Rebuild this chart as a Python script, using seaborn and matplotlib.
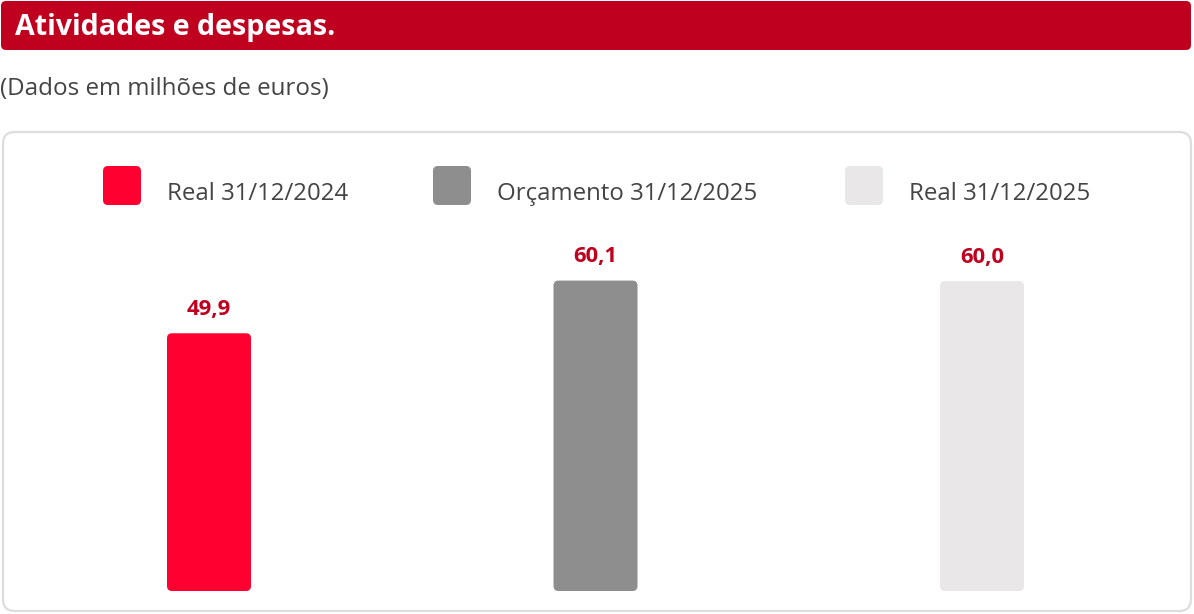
import numpy as np
import pandas as pd
import matplotlib
matplotlib.use("Agg")
import matplotlib.pyplot as plt
import seaborn as sns
from matplotlib.patches import FancyBboxPatch

# Data
categorias = ["Real 31/12/2024", "Orçamento 31/12/2025", "Real 31/12/2025"]
valores = [49.9, 60.1, 60.0]
rotulos = ["49,9", "60,1", "60,0"]
cores = ["#FF0030", "#8E8E8E", "#E9E7E8"]

titulo = "Atividades e despesas."
subtitulo = "(Dados em milhões de euros)"

df = pd.DataFrame({"categoria": categorias, "valor": valores})

sns.set_style("white")
plt.rcParams["font.family"] = ["Open Sans", "DejaVu Sans"]

W, H = 1194, 614
fig = plt.figure(figsize=(W / 100, H / 100), dpi=100)

# background layer in pixel coordinates
bg = fig.add_axes([0, 0, 1, 1])
bg.set_xlim(0, W)
bg.set_ylim(H, 0)
bg.axis("off")

# title bar
bg.add_patch(FancyBboxPatch((1, 1), W - 4, 49, boxstyle="round,pad=0,rounding_size=5",
                            fc="#C0001F", ec="none"))
bg.text(15, 28, titulo, color="white", fontsize=20.6, fontweight="bold", va="center", ha="left")
bg.text(0, 89, subtitulo, color="#444444", fontsize=17.4, va="center", ha="left")

# chart frame
bg.add_patch(FancyBboxPatch((3, 132), W - 6, 479, boxstyle="round,pad=0,rounding_size=12",
                            fc="white", ec="#DDDDDD", lw=1.6))

# legend
leg_x = [103, 433, 845]
for lx, cat, c in zip(leg_x, categorias, cores):
    bg.add_patch(FancyBboxPatch((lx, 166), 38, 39, boxstyle="round,pad=0,rounding_size=5",
                                fc=c, ec="none"))
    bg.text(lx + 64, 194, cat, color="#444444", fontsize=17.3, va="center", ha="left")

# bar axes: x centers at 209/595/982 px, baseline at y=591 px
px_per_unit = 386.5
left = 209 - 0.5 * px_per_unit
ymax = 70
px_per_val = 5.165
ax = fig.add_axes([left / W, (H - 591) / H, 3 * px_per_unit / W, ymax * px_per_val / H])
ax.patch.set_alpha(0)

sns.barplot(data=df, x="categoria", y="valor", hue="categoria", palette=cores,
            width=84 / px_per_unit, legend=False, ax=ax, saturation=1)
ax.set_xlim(-0.5, 2.5)
ax.set_ylim(0, ymax)
ax.axis("off")

# rounded bars
r_px = 5
aspect = px_per_unit / px_per_val
for p, lab in zip(list(ax.patches), rotulos):
    x0, w, h = p.get_x(), p.get_width(), p.get_height()
    p.set_visible(False)
    ax.add_patch(FancyBboxPatch((x0, 0), w, h,
                                boxstyle="round,pad=0,rounding_size=%f" % (r_px / px_per_unit),
                                mutation_aspect=aspect, fc=p.get_facecolor(), ec="none"))
    ax.text(x0 + w / 2, h + 24 / px_per_val, lab, ha="center", va="center",
            color="#C0001F", fontsize=15.8, fontweight="bold")

fig.savefig("out.png", dpi=100)
